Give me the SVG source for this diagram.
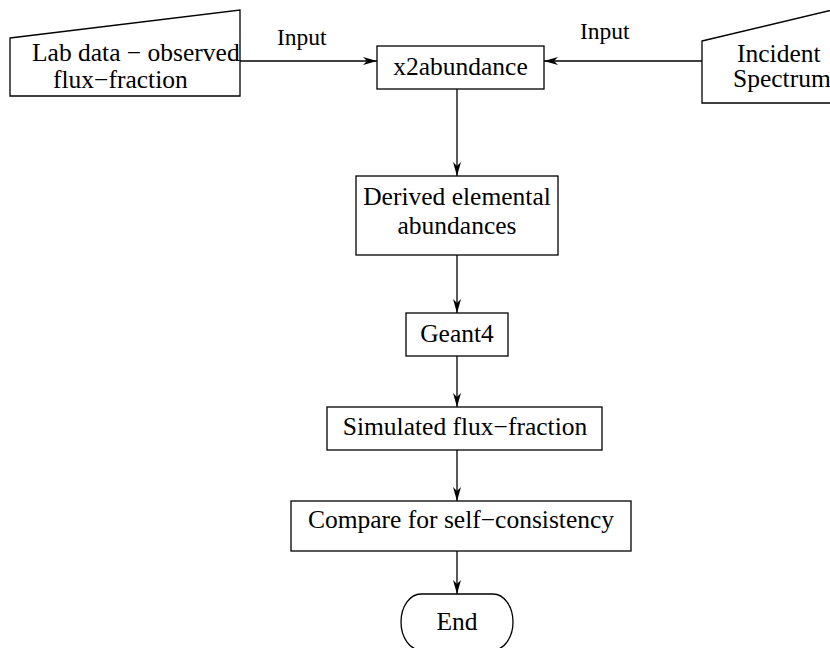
<svg xmlns="http://www.w3.org/2000/svg" width="830" height="648" viewBox="0 0 830 648">
  <style>
    .shape { fill: #fff; stroke: #000; stroke-width: 1.3; }
    .wire { fill: none; stroke: #000; stroke-width: 1.3; }
    text { font-family: 'Liberation Serif', 'Times New Roman', Times, 'DejaVu Serif', serif; font-size: 25.5px; fill: #000; }
    .mid { text-anchor: middle; }
    .lbl { font-size: 23.5px; }
  </style>
  <defs>
    <marker id="arrow" markerUnits="userSpaceOnUse" markerWidth="16" markerHeight="10" viewBox="-15 -5 16 10" refX="0" refY="0" orient="auto">
      <path d="M0,0 L-14,-4 L-10,0 L-14,4 Z" fill="#000"/>
    </marker>
  </defs>
  <rect width="830" height="648" fill="#fff"/>

  <!-- connectors -->
  <g id="connectors">
    <line class="wire" x1="240" y1="61" x2="377" y2="61" marker-end="url(#arrow)"/>
    <line class="wire" x1="702" y1="61" x2="544" y2="61" marker-end="url(#arrow)"/>
    <line class="wire" x1="457" y1="89" x2="457" y2="176" marker-end="url(#arrow)"/>
    <line class="wire" x1="457" y1="255" x2="457" y2="313" marker-end="url(#arrow)"/>
    <line class="wire" x1="457" y1="356" x2="457" y2="407" marker-end="url(#arrow)"/>
    <line class="wire" x1="457" y1="450" x2="457" y2="501" marker-end="url(#arrow)"/>
    <line class="wire" x1="457" y1="551" x2="457" y2="594" marker-end="url(#arrow)"/>
    <text class="lbl" x="277" y="45">Input</text>
    <text class="lbl" x="580" y="39">Input</text>
  </g>

  <!-- manual input: lab data -->
  <g id="lab-data">
    <path class="shape" d="M10,38 L240,10 L240,96 L10,96 Z"/>
    <text x="32" y="61">Lab data − observed</text>
    <text x="53" y="88">flux−fraction</text>
  </g>

  <!-- manual input: incident spectrum -->
  <g id="incident-spectrum">
    <path class="shape" d="M702,41 L870,1 L870,103 L702,103 Z"/>
    <text x="737" y="62">Incident</text>
    <text x="733" y="87">Spectrum</text>
  </g>

  <g id="x2abundance">
    <rect class="shape" x="377" y="46" width="167" height="43"/>
    <text class="mid" x="460.5" y="75">x2abundance</text>
  </g>

  <g id="derived">
    <rect class="shape" x="356" y="176" width="202" height="79"/>
    <text class="mid" x="457" y="205">Derived elemental</text>
    <text class="mid" x="457" y="234">abundances</text>
  </g>

  <g id="geant4">
    <rect class="shape" x="406" y="313" width="102" height="43"/>
    <text class="mid" x="457" y="342">Geant4</text>
  </g>

  <g id="simulated">
    <rect class="shape" x="327" y="407" width="275" height="43"/>
    <text class="mid" x="465" y="435">Simulated flux−fraction</text>
  </g>

  <g id="compare">
    <rect class="shape" x="291" y="501" width="340" height="50"/>
    <text class="mid" x="461" y="528">Compare for self−consistency</text>
  </g>

  <!-- terminator -->
  <g id="end">
    <path class="shape" d="M421,594 L493,594 A20,28 0 0 1 493,650 L421,650 A20,28 0 0 1 421,594 Z"/>
    <text class="mid" x="457" y="630">End</text>
  </g>
</svg>
